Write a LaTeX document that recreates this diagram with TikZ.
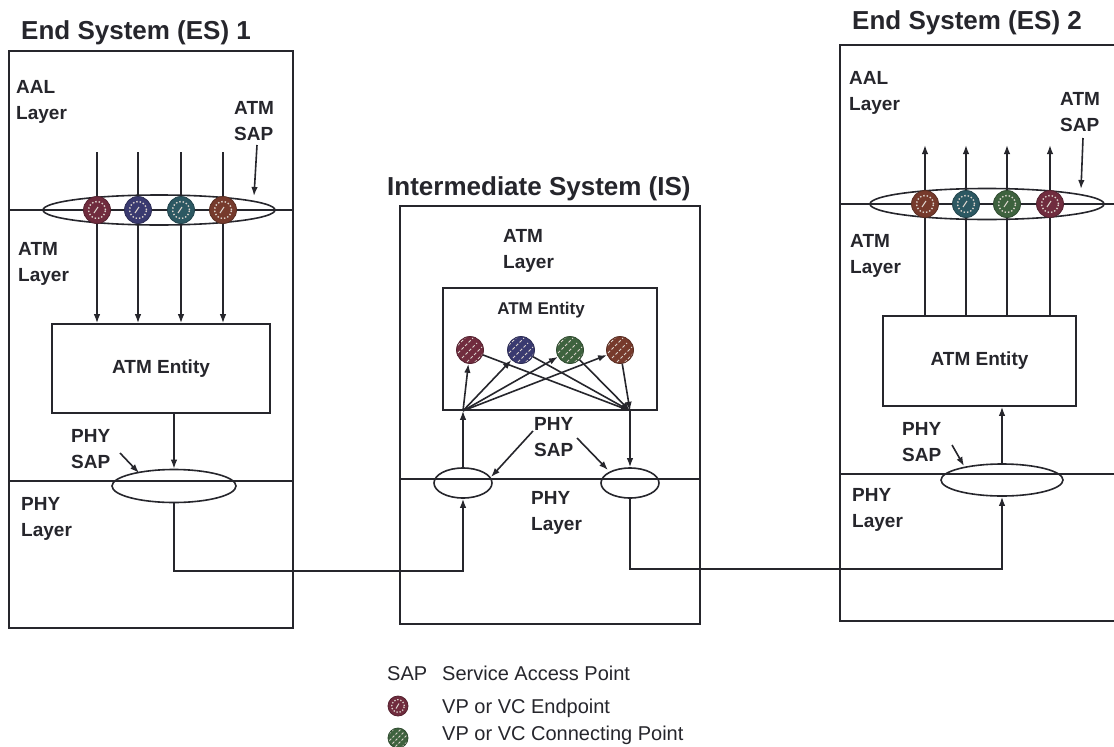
\documentclass[tikz,border=0pt]{standalone}
\usepackage{fontspec}
\setmainfont{Liberation Sans}
\usetikzlibrary{arrows.meta,shapes.geometric}
\definecolor{ink}{RGB}{38,38,44}
\definecolor{cA}{RGB}{112,44,62}
\definecolor{cB}{RGB}{58,58,112}
\definecolor{cC}{RGB}{44,88,98}
\definecolor{cD}{RGB}{118,58,44}
\definecolor{cE}{RGB}{62,98,62}
\definecolor{dotc}{RGB}{220,212,205}
\tikzset{
 ln/.style={draw=ink, line width=1.6pt},
 arr/.style={ln, -{Latex[length=9pt,width=6.5pt]}},
 box/.style={ln, rectangle, inner sep=0pt},
 sap/.style={ln, ellipse, inner sep=0pt},
 ent/.style={text=ink, font=\bfseries\fontsize{19}{22}\selectfont},
 lbl/.style={text=ink, font=\bfseries\fontsize{19}{26}\selectfont, align=left, inner sep=0pt, anchor=north west},
 ttl/.style={text=ink, font=\bfseries\fontsize{26}{30}\selectfont, inner sep=0pt, anchor=base west},
 leg/.style={text=ink, font=\fontsize{20}{24}\selectfont, inner sep=0pt, anchor=base west},
 endpt/.style={circle, inner sep=0pt, minimum size=27pt, draw=#1!75!black, line width=0.8pt, fill=#1,
   path picture={\draw[dotc, line width=1.4pt, dash pattern=on 1.4pt off 2pt] (path picture bounding box.center) circle (8.5pt);
     \draw[dotc, line width=1pt] ([shift={(-3pt,-3pt)}]path picture bounding box.center) -- ++(4pt,6pt);}},
 endptS/.style={circle, inner sep=0pt, minimum size=20pt, draw=#1!75!black, line width=0.8pt, fill=#1,
   path picture={\draw[dotc, line width=1.3pt, dash pattern=on 1.3pt off 1.8pt] (path picture bounding box.center) circle (6.3pt);
     \draw[dotc, line width=1pt] ([shift={(-2pt,-2.5pt)}]path picture bounding box.center) -- ++(3pt,5pt);}},
 conpt/.style={circle, inner sep=0pt, minimum size=27pt, draw=#1!75!black, line width=0.8pt, fill=#1,
   path picture={\foreach \xa/\ya in {-16/1,-12/-3,-8/-8,-3/-12,1/-16}{\draw[dotc, line width=1pt, dash pattern=on 3pt off 2pt] ([shift={(\xa pt,\ya pt)}]path picture bounding box.center) -- ++(15pt,15pt);}}},
 conptS/.style={circle, inner sep=0pt, minimum size=20pt, draw=#1!75!black, line width=0.8pt, fill=#1,
   path picture={\foreach \xa/\ya in {-12/1,-8.5/-2.5,-5.5/-5.5,-2.5/-8.5,1/-12}{\draw[dotc, line width=1pt, dash pattern=on 2.5pt off 1.8pt] ([shift={(\xa pt,\ya pt)}]path picture bounding box.center) -- ++(11pt,11pt);}}},
}
\begin{document}
\begin{tikzpicture}[x=1pt,y=-1pt]
\useasboundingbox (0,0) rectangle (1114,747);
\fill[white] (0,0) rectangle (1114,747);
\clip (0,0) rectangle (1114,747);

% ---------- titles
\node[ttl] (t1) at (21,39) {End System (ES) 1};
\node[ttl] (t2) at (387,195) {Intermediate System (IS)};
\node[ttl] (t3) at (852,29) {End System (ES) 2};

% ---------- End System 1
\node[box, minimum width=284pt, minimum height=577pt] (es1) at (151,339.5) {};
\draw[ln] (9,210) -- (293,210);
\draw[ln] (9,481) -- (293,481);
\node[box, ent, minimum width=218pt, minimum height=89pt] (e1ent) at (161,368.5) {ATM Entity};
\node[sap, minimum width=232pt, minimum height=30pt] (e1sap) at (159,210) {};
\node[sap, minimum width=124pt, minimum height=33pt] (e1phy) at (174,486) {};
\foreach \i/\x/\c in {1/97/cA,2/138/cB,3/181/cC,4/223/cD}{
  \node[endpt=\c] (e1c\i) at (\x,210) {};
  \coordinate (e1t\i) at (\x,152);
}
\foreach \i in {1,...,4}{
  \draw[ln] (e1t\i) -- (e1c\i);
  \draw[arr] (e1c\i) -- (e1c\i |- e1ent.north);
}
\draw[arr] (e1phy.north |- e1ent.south) -- (e1phy.north);
\node[lbl] (l1) at (16,80) {AAL\\Layer};
\node[lbl] (l2) at (234,101) {ATM\\SAP};
\node[lbl] (l3) at (18,242) {ATM\\Layer};
\node[lbl] (l4) at (71,429) {PHY\\SAP};
\node[lbl] (l5) at (21,497) {PHY\\Layer};
\coordinate (a1s) at (257,145); \coordinate (a1e) at (254,196);
\draw[arr] (a1s) -- (a1e);
\coordinate (a2s) at (120,453); \coordinate (a2e) at (139,473);
\draw[arr] (a2s) -- (a2e);

% ---------- Intermediate System
\node[box, minimum width=300pt, minimum height=418pt] (is) at (550,415) {};
\draw[ln] (400,479) -- (700,479);
\node[box, minimum width=214pt, minimum height=122pt] (isent) at (550,349) {};
\node[ent, font=\bfseries\fontsize{17}{20}\selectfont, inner sep=0pt] (isentl) at (541,310) {ATM Entity};
\foreach \i/\x/\c in {1/470/cA,2/521/cB,3/570/cE,4/620/cD}{
  \node[conpt=\c] (isc\i) at (\x,350) {};
}
\node[sap, minimum width=58pt, minimum height=30pt] (isl) at (463,483) {};
\node[sap, minimum width=58pt, minimum height=30pt] (isr) at (630,483) {};
\coordinate (ispL) at (isl.north |- isent.south);
\coordinate (ispR) at (isr.north |- isent.south);
\draw[arr] (isl.north) -- (ispL);
\foreach \i in {1,...,4}{
  \draw[arr] (ispL) -- (isc\i);
  \draw[arr] (isc\i) -- (ispR);
}
\draw[arr] (ispR) -- (isr.north);
\node[lbl] (l6) at (503,229) {ATM\\Layer};
\node[lbl] (l7) at (534,417) {PHY\\SAP};
\node[lbl] (l8) at (531,491) {PHY\\Layer};
\coordinate (a3s) at (533,431); \coordinate (a3e) at (491,477);
\draw[arr] (a3s) -- (a3e);
\coordinate (a4s) at (577,438); \coordinate (a4e) at (608,470);
\draw[arr] (a4s) -- (a4e);

% ---------- End System 2
\node[box, minimum width=285pt, minimum height=576pt] (es2) at (982.5,333) {};
\draw[ln] (840,204) -- (1114,204);
\draw[ln] (840,474) -- (1114,474);
\node[box, ent, minimum width=193pt, minimum height=90pt] (e2ent) at (979.5,361) {ATM Entity};
\node[sap, minimum width=234pt, minimum height=31pt] (e2sap) at (987,204) {};
\node[sap, minimum width=122pt, minimum height=32pt] (e2phy) at (1002,480) {};
\foreach \i/\x/\c in {1/925/cD,2/966/cC,3/1007/cE,4/1050/cA}{
  \node[endpt=\c] (e2c\i) at (\x,204) {};
  \coordinate (e2t\i) at (\x,145);
}
\foreach \i in {1,...,4}{
  \draw[ln] (e2c\i |- e2ent.north) -- (e2c\i);
  \draw[arr] (e2c\i) -- (e2t\i);
}
\draw[arr] (e2phy.north) -- (e2phy.north |- e2ent.south);
\node[lbl] (l9) at (849,71) {AAL\\Layer};
\node[lbl] (l10) at (1060,92) {ATM\\SAP};
\node[lbl] (l11) at (850,234) {ATM\\Layer};
\node[lbl] (l12) at (902,422) {PHY\\SAP};
\node[lbl] (l13) at (852,488) {PHY\\Layer};
\coordinate (a5s) at (1083,138); \coordinate (a5e) at (1081,189);
\draw[arr] (a5s) -- (a5e);
\coordinate (a6s) at (952,445); \coordinate (a6e) at (964,466);
\draw[arr] (a6s) -- (a6e);

% ---------- physical links
\coordinate (lkA) at (300,571);
\draw[arr] (e1phy.south) |- (isl.south |- lkA) -- (isl.south);
\coordinate (lkB) at (800,569);
\draw[arr] (isr.south) |- (e2phy.south |- lkB) -- (e2phy.south);

% ---------- legend
\node[leg] (lg1) at (387,680) {SAP};
\node[leg] (lg2) at (442,680) {Service Access Point};
\node[endptS=cA] (lgi1) at (398,706) {};
\node[leg] (lg3) at (442,713) {VP or VC Endpoint};
\node[conptS=cE] (lgi2) at (398,738) {};
\node[leg] (lg4) at (442,740) {VP or VC Connecting Point};
\end{tikzpicture}
\end{document}
